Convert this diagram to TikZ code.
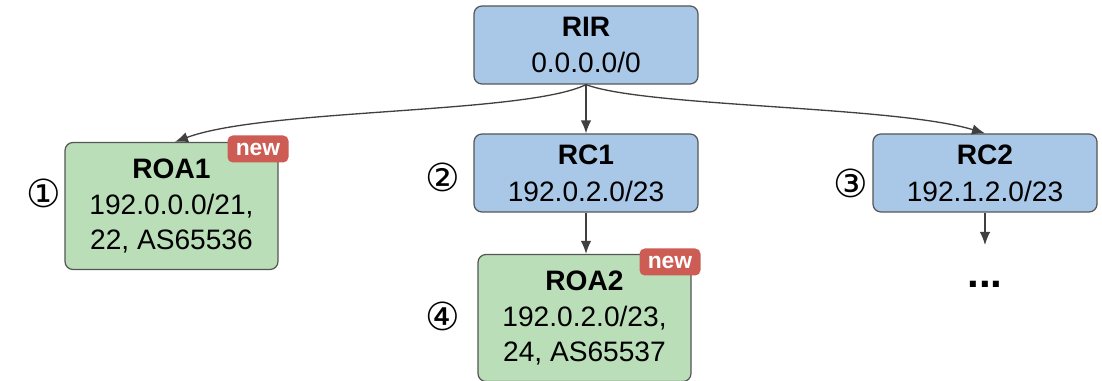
\documentclass[tikz,border=0pt]{standalone}
\usepackage{fontspec}
\setmainfont{Liberation Sans}
\newfontfamily\circfont{DejaVu Sans}
\usetikzlibrary{arrows.meta}
\definecolor{rcblue}{RGB}{169,200,232}
\definecolor{roagreen}{RGB}{186,222,183}
\definecolor{newred}{RGB}{204,92,84}
\definecolor{randgrau}{RGB}{85,85,85}
\definecolor{pfeilgrau}{RGB}{64,64,64}
\begin{document}
\begin{tikzpicture}[
    every node/.style={font=\fontsize{16}{20}\selectfont},
    rcbox/.style={draw=randgrau, fill=rcblue, rounded corners=4.5pt, line width=0.7pt,
        minimum width=4.48cm, minimum height=1.56cm, align=center, inner sep=2pt},
    roabox/.style={draw=randgrau, fill=roagreen, rounded corners=4.5pt, line width=0.7pt,
        minimum width=4.26cm, minimum height=2.54cm, align=center, inner sep=2pt},
    newtag/.style={fill=newred, rounded corners=3pt, text=white,
        font=\bfseries\fontsize{13}{14}\selectfont, minimum width=1.22cm, minimum height=0.54cm, inner sep=0pt},
    nummer/.style={font=\circfont\fontsize{22}{24}\selectfont},
    pfeil/.style={-{Latex[length=2.6mm,width=2.1mm]}, draw=pfeilgrau, line width=0.75pt}
]
    \useasboundingbox (0,0) rectangle (22.04,7.62);

    % Zertifikate
    \node[rcbox] (rir) at (11.72,6.72) {\textbf{RIR}\\[1pt]0.0.0.0/0};
    \node[rcbox] (rc1) at (11.72,4.16) {\textbf{RC1}\\[1pt]192.0.2.0/23};
    \node[rcbox] (rc2) at (19.70,4.16) {\textbf{RC2}\\[1pt]192.1.2.0/23};

    % ROAs
    \node[roabox] (roa1) at (3.43,3.50) {\textbf{ROA1}\\192.0.0.0/21,\\22, AS65536};
    \node[roabox] (roa2) at (11.69,1.26) {\textbf{ROA2}\\192.0.2.0/23,\\24, AS65537};
    \node[newtag] (new1) at (5.16,4.64) {new};
    \node[newtag] (new2) at (13.40,2.38) {new};

    % Nummern
    \node[nummer] (n1) at (0.88,3.76) {①};
    \node[nummer] (n2) at (8.86,4.08) {②};
    \node[nummer] (n3) at (17.02,3.96) {③};
    \node[nummer] (n4) at (8.86,1.30) {④};

    % weitere
    \coordinate (weiter) at (19.70,2.72);
    \node[font=\bfseries\fontsize{24}{26}\selectfont] (dots) at (19.70,1.94) {...};

    % Pfeile
    \draw[pfeil] (rir.south) .. controls +(-1.2,-0.59) and +(1.8,0.67) .. ([xshift=2pt]roa1.north);
    \draw[pfeil] (rir.south) -- (rc1.north);
    \draw[pfeil] (rir.south) .. controls +(1.2,-0.45) and +(-1.8,0.55) .. (rc2.north);
    \draw[pfeil] (rc1.south) -- (rc1.south |- roa2.north);
    \draw[pfeil] (rc2.south) -- (weiter);
\end{tikzpicture}
\end{document}
